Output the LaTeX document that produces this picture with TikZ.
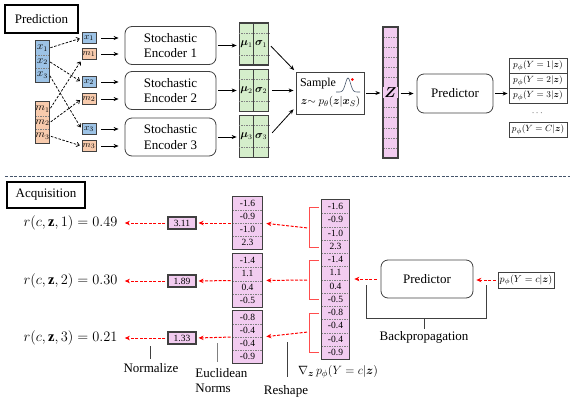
\documentclass[tikz,border=0pt]{standalone}
\usepackage{amsmath,bm}
\usepackage{fontspec}
\setmainfont{Liberation Serif}
\usetikzlibrary{arrows.meta,calc}
\definecolor{bluef}{HTML}{9DC3E6}
\definecolor{orangef}{HTML}{F8CBAD}
\definecolor{greenf}{HTML}{D5EECB}
\definecolor{pinkf}{HTML}{F2CCF0}
\definecolor{bord}{HTML}{404040}
\definecolor{sepblue}{HTML}{44546A}
\definecolor{redb}{HTML}{FF4D4D}
\definecolor{redd}{HTML}{FF0000}
\begin{document}
\begin{tikzpicture}[x=1pt,y=-1pt, line width=0.75pt,
  txt/.style={font=\fontsize{13}{15.5}\selectfont},
  rbox/.style={draw=bord, line width=0.8pt, rounded corners=7pt, txt, align=center, inner sep=0pt},
  hdr/.style={draw=black, line width=1.1pt, txt, inner sep=0pt},
  xcell/.style={fill=bluef, minimum width=13pt, minimum height=13.7pt, inner sep=0pt, font=\fontsize{10.5}{10.5}\selectfont},
  mcell/.style={fill=orangef, minimum width=13pt, minimum height=13.7pt, inner sep=0pt, font=\fontsize{10.5}{10.5}\selectfont},
  sbox/.style={draw=bord, line width=0.8pt, minimum width=14pt, minimum height=11pt, inner sep=0pt, font=\fontsize{9.5}{9.5}\selectfont},
  gcol/.style={draw=bord, line width=1.2pt, fill=greenf, minimum width=14.5pt, minimum height=42pt, inner sep=0pt, font=\fontsize{10.5}{10.5}\selectfont},
  pcell/.style={fill=pinkf, inner sep=0pt, font=\fontsize{9.5}{9.5}\selectfont},
  prow/.style={draw=bord, line width=0.8pt, minimum width=58pt, minimum height=15pt, inner sep=0pt, font=\fontsize{9.5}{9.5}\selectfont},
  divl/.style={gray, dash pattern=on 1.5pt off 1pt, line width=0.5pt},
  arr/.style={-{Stealth[length=5pt,width=4pt]}, line width=0.8pt},
  darr/.style={-{To[length=3.5pt,width=5pt]}, dash pattern=on 2.5pt off 1.5pt, line width=0.75pt},
  redarr/.style={draw=redd, -{Stealth[length=5pt,width=4.5pt,fill=redd]}, dash pattern=on 3pt off 1.5pt, line width=1pt},
  redbr/.style={draw=redb, line width=0.8pt},
  tick/.style={draw=bord, line width=0.8pt}
]
\useasboundingbox (0,0) rectangle (574,400);
% ---------------- Prediction ----------------
\node[hdr, minimum width=73pt, minimum height=28pt] (predh) at (41.5,19) {Prediction};
% input columns
\node[xcell] (xc1) at (42.5,48) {$x_1$};
\node[xcell] (xc2) at (42.5,61.5) {$x_2$};
\node[xcell] (xc3) at (42.5,75) {$x_3$};
\draw[divl] (xc1.south west) -- (xc1.south east);
\draw[divl] (xc2.south west) -- (xc2.south east);
\draw[bord, line width=0.9pt] (xc1.north west) rectangle (xc3.south east);
\node[mcell] (mc1) at (42.5,109) {$m_1$};
\node[mcell] (mc2) at (42.5,122.5) {$m_2$};
\node[mcell] (mc3) at (42.5,136) {$m_3$};
\draw[divl] (mc1.south west) -- (mc1.south east);
\draw[divl] (mc2.south west) -- (mc2.south east);
\draw[bord, line width=0.9pt] (mc1.north west) rectangle (mc3.south east);
% small boxes
\node[sbox, fill=bluef] (xb1) at (89,38) {$x_1$};
\node[sbox, fill=orangef] (mb1) at (89,54) {$m_1$};
\node[sbox, fill=bluef] (xb2) at (89,82) {$x_2$};
\node[sbox, fill=orangef] (mb2) at (89,99) {$m_2$};
\node[sbox, fill=bluef] (xb3) at (89,129) {$x_3$};
\node[sbox, fill=orangef] (mb3) at (89,146) {$m_3$};
% dashed arrows
\draw[darr, shorten <=1pt, shorten >=2pt] (xc1.east) -- (xb1.west);
\draw[darr, shorten <=1pt, shorten >=2pt] (xc2.east) -- (xb2.west);
\draw[darr, shorten <=1pt, shorten >=2pt] (xc3.east) -- (xb3.west);
\draw[darr, shorten <=1pt, shorten >=2pt] (mc1.east) -- (mb1.south west);
\draw[darr, shorten <=1pt, shorten >=2pt] (mc2.east) -- (mb2.west);
\draw[darr, shorten <=1pt, shorten >=2pt] (mc3.east) -- (mb3.west);
% encoders
\node[rbox, minimum width=91pt, minimum height=38pt] (enc1) at (170.5,45.5) {Stochastic\\Encoder 1};
\node[rbox, minimum width=91pt, minimum height=38pt] (enc2) at (170.5,90.5) {Stochastic\\Encoder 2};
\node[rbox, minimum width=91pt, minimum height=38pt] (enc3) at (170.5,137) {Stochastic\\Encoder 3};
\foreach \b/\e in {xb1/enc1, mb1/enc1, xb2/enc2, mb2/enc2, xb3/enc3, mb3/enc3}
  \draw[arr, shorten <=5pt, shorten >=6pt] (\b.east) -- (\b.east -| \e.west);
% mu sigma
\foreach \k/\yy in {1/44, 2/90.5, 3/136.5}{
  \node[gcol] (mu\k) at (246.5,\yy) {$\bm{\mu}_{\k}$};
  \node[gcol] (sg\k) at (261,\yy) {$\bm{\sigma}_{\k}$};
  \draw[divl] ($(mu\k.north west)!0.25!(mu\k.south west)$) -- ($(sg\k.north east)!0.25!(sg\k.south east)$);
  \draw[divl] ($(mu\k.north west)!0.75!(mu\k.south west)$) -- ($(sg\k.north east)!0.75!(sg\k.south east)$);
  \draw[arr, shorten <=2pt, shorten >=2pt] (enc\k.east) -- (enc\k.east -| mu\k.west);
}
% sample
\node[draw=bord, line width=0.8pt, minimum width=68pt, minimum height=42pt, inner sep=0pt] (sample) at (330,93) {};
\node[txt, font=\fontsize{12}{12}\selectfont, inner sep=0pt] (samplet) at (318,84) {Sample};
\draw[sepblue, line width=0.6pt] plot[domain=-12:12, samples=41] ({348+\x}, {92-14*exp(-(\x/3.6)^2)});
\fill[red] (352.3,79.5) circle (1.5pt);
\node[inner sep=0pt, font=\fontsize{11}{11}\selectfont] (samplez) at (330.5,102) {$\bm{z}{\sim}\ p_\theta(\bm{z}|\bm{x}_S)$};
\draw[arr, shorten <=3pt, shorten >=2pt] (sg1.east) -- (sample.north west);
\draw[arr, shorten <=3pt, shorten >=2pt] (sg2.east) -- (sg2.east -| sample.west);
\draw[arr, shorten <=5pt, shorten >=3pt] (sg3.east) -- ([yshift=-14pt]sample.west);
% Z column
\fill[pinkf] (383,27) rectangle (398,158);
\foreach \i in {1,...,12} \draw[divl] (383,{27+131/13*\i}) -- (398,{27+131/13*\i});
\node[draw=bord, line width=1.2pt, minimum width=15pt, minimum height=131pt, inner sep=0pt] (Z) at (390.5,92.5) {};
\node[fill=pinkf, inner sep=1pt, font=\fontsize{14}{14}\selectfont] (Zt) at (390.5,92.5) {$\bm{Z}$};
\draw[arr, shorten <=2pt, shorten >=2pt] (sample.east) -- (sample.east -| Z.west);
% predictor
\node[rbox, minimum width=76pt, minimum height=39pt] (pred) at (455,93.5) {Predictor};
\draw[arr, shorten <=2pt, shorten >=3pt] (Z.east |- pred.west) -- (pred.west);
% outputs
\node[prow] (o1) at (538,65.5) {$p_\phi(Y=1|\bm{z})$};
\node[prow] (o2) at (538,80.5) {$p_\phi(Y=2|\bm{z})$};
\node[prow] (o3) at (538,96) {$p_\phi(Y=3|\bm{z})$};
\node[inner sep=0pt, font=\fontsize{9}{9}\selectfont] (od) at (538,113) {$\cdots$};
\node[prow] (oc) at (538,129.5) {$p_\phi(Y=C|\bm{z})$};
\draw[arr, shorten <=2pt, shorten >=1pt] (pred.east) -- (pred.east -| o3.west);
% separator
\draw[sepblue, dash pattern=on 3pt off 1.5pt, line width=0.9pt] (5,176) -- (570,176);
% ---------------- Acquisition ----------------
\node[hdr, minimum width=78pt, minimum height=26pt] (acqh) at (46,195) {Acquisition};
\node[inner sep=0pt, font=\fontsize{14.5}{14.5}\selectfont] (r1) at (70.5,223) {$r(c,\mathbf{z},1)=0.49$};
\node[inner sep=0pt, font=\fontsize{14.5}{14.5}\selectfont] (r2) at (70.5,281) {$r(c,\mathbf{z},2)=0.30$};
\node[inner sep=0pt, font=\fontsize{14.5}{14.5}\selectfont] (r3) at (70.5,338) {$r(c,\mathbf{z},3)=0.21$};
% norm boxes
\node[draw=bord, line width=1.1pt, fill=pinkf, minimum width=28pt, minimum height=12pt, inner sep=0pt, font=\fontsize{9.5}{9.5}\selectfont] (n1) at (182,223) {3.11};
\node[draw=bord, line width=1.1pt, fill=pinkf, minimum width=28pt, minimum height=12pt, inner sep=0pt, font=\fontsize{9.5}{9.5}\selectfont] (n2) at (182,281) {1.89};
\node[draw=bord, line width=1.1pt, fill=pinkf, minimum width=28pt, minimum height=12pt, inner sep=0pt, font=\fontsize{9.5}{9.5}\selectfont] (n3) at (182,338) {1.33};
\foreach \k in {1,2,3} \draw[redarr, shorten <=2pt, shorten >=7pt] (n\k.west) -- (r\k.east);
% reshaped columns
\foreach \v [count=\i] in {-1.6,-0.9,-1.0,2.3}
  \node[pcell, minimum width=29pt, minimum height=13pt] (ca\i) at (247.5,{197+13*(\i-0.5)}) {\v};
\foreach \v [count=\i] in {-1.4,1.1,0.4,-0.5}
  \node[pcell, minimum width=29pt, minimum height=13.25pt] (cb\i) at (247.5,{254+13.25*(\i-0.5)}) {\v};
\foreach \v [count=\i] in {-0.8,-0.4,-0.4,-0.9}
  \node[pcell, minimum width=29pt, minimum height=13pt] (cc\i) at (247.5,{311+13*(\i-0.5)}) {\v};
\foreach \c in {a,b,c}{
  \foreach \i in {1,2,3} \draw[divl] (c\c\i.south west) -- (c\c\i.south east);
  \draw[bord, line width=1.2pt] (c\c1.north west) rectangle (c\c4.south east);
}
\draw[redarr, shorten <=2pt, shorten >=2pt] ($(ca2.south west)!0.5!(ca3.north west)$) -- (n1.east);
\draw[redarr, shorten <=2pt, shorten >=2pt] ($(cb2.south west)!0.5!(cb3.north west)$) -- (n2.east);
\draw[redarr, shorten <=2pt, shorten >=2pt] ($(cc2.south west)!0.5!(cc3.north west)$) -- (n3.east);
% gradient column
\foreach \v [count=\i] in {-1.6,-0.9,-1.0,2.3,-1.4,1.1,0.4,-0.5,-0.8,-0.4,-0.4,-0.9}
  \node[pcell, minimum width=27pt, minimum height=13.25pt] (g\i) at (335.5,{200+13.25*(\i-0.5)}) {\v};
\foreach \i in {1,...,11} \draw[divl] (g\i.south west) -- (g\i.south east);
\draw[bord, line width=1.2pt] (g1.north west) rectangle (g12.south east);
\node[inner sep=0pt, font=\fontsize{12.5}{12.5}\selectfont] (glab) at (338,372) {$\nabla_{\bm{z}}\, p_\phi(Y=c|\bm{z})$};
% brackets
\draw[redbr] (319,207) -- (309,207) -- (309,247) -- (319,247);
\draw[redbr] (319,260) -- (309,260) -- (309,299) -- (319,299);
\draw[redbr] (319,313) -- (309,313) -- (309,352) -- (319,352);
\coordinate (b1) at (308,228);
\coordinate (b2) at (308,280);
\coordinate (b3) at (308,332);
\draw[redarr, shorten <=1pt, shorten >=4pt] (b1) -- ($(ca2.south east)!0.5!(ca3.north east)$);
\draw[redarr, shorten <=1pt, shorten >=4pt] (b2) -- ($(cb2.south east)!0.5!(cb3.north east)$);
\draw[redarr, shorten <=1pt, shorten >=4pt] (b3) -- ($(cc2.south east)!0.5!(cc3.north east)$);
% predictor (acquisition)
\node[rbox, minimum width=92pt, minimum height=38pt] (pred2) at (427,279) {Predictor};
\node[draw=bord, line width=0.8pt, minimum width=56pt, minimum height=16pt, inner sep=0pt, font=\fontsize{10}{10}\selectfont] (pc) at (526,280) {$p_\phi(Y=c|\bm{z})$};
\draw[redarr, shorten <=2pt, shorten >=3pt] (pc.west) -- (pc.west -| pred2.east);
\draw[redarr, shorten <=4pt, shorten >=5pt] (pred2.west) -- (pred2.west -| g6.east);
% backpropagation bracket
\draw[tick] (366,285) -- (366,318) -- (486,318) -- (486,285);
\draw[tick] (424,318) -- (424,329);
\node[txt, inner sep=0pt] (bp) at (424,337) {Backpropagation};
% under labels
\draw[tick] (150,346) -- (150,359);
\node[txt, inner sep=0pt] (norml) at (151,368) {Normalize};
\draw[gray, line width=0.9pt] (217,343) -- (217,362);
\node[txt, inner sep=0pt, align=left, anchor=north west] (eucl) at (195,368) {Euclidean\\Norms};
\draw[tick] (287,342) -- (287,377);
\node[txt, inner sep=0pt] (resh) at (286,391) {Reshape};
\end{tikzpicture}
\end{document}
